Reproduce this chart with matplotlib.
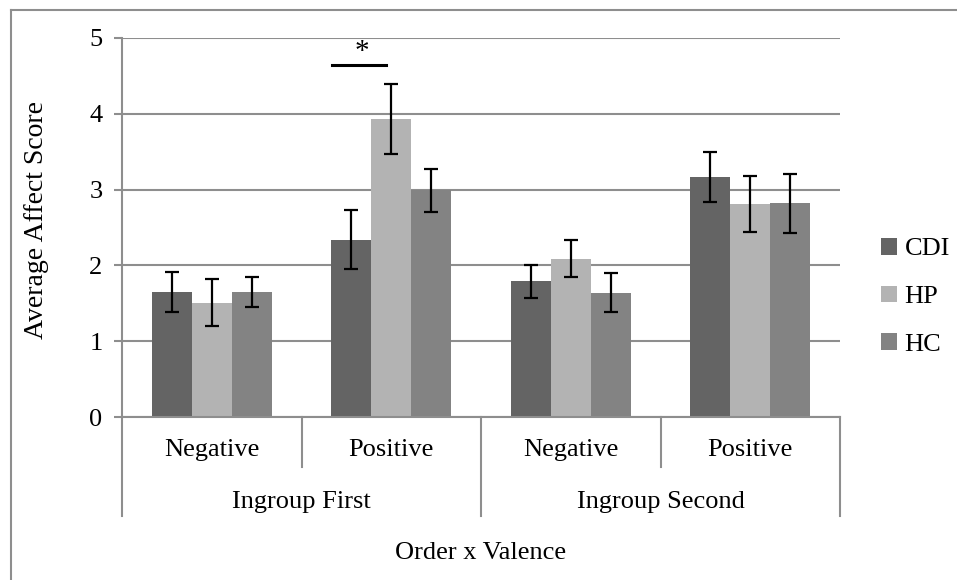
import numpy as np
import matplotlib
matplotlib.use("Agg")
import matplotlib.pyplot as plt
from matplotlib.lines import Line2D

plt.rcParams["font.family"] = ["Liberation Serif", "DejaVu Serif"]

valence = ["Negative", "Positive", "Negative", "Positive"]
order = ["Ingroup First", "Ingroup Second"]
groups = ["CDI", "HP", "HC"]
cdi = [1.65, 2.34, 1.79, 3.16]
hp = [1.51, 3.93, 2.09, 2.81]
hc = [1.65, 2.99, 1.64, 2.82]
cdi_err = [0.26, 0.39, 0.22, 0.33]
hp_err = [0.31, 0.46, 0.24, 0.37]
hc_err = [0.20, 0.28, 0.26, 0.39]
colors = ["#646464", "#b3b3b3", "#838383"]
grid_c = "#8e8e8e"
fs = 19

fig = plt.figure(figsize=(9.57, 5.8), dpi=100)
ax = fig.add_axes([122 / 957, 1 - 417 / 580, 718 / 957, 379 / 580])

x = np.arange(len(valence))
w = 0.223
for i, (vals, errs) in enumerate(zip([cdi, hp, hc], [cdi_err, hp_err, hc_err])):
    ax.bar(x + (i - 1) * w, vals, w, color=colors[i], label=groups[i], zorder=2)
    ax.errorbar(x + (i - 1) * w, vals, yerr=errs, fmt="none", ecolor="black",
                elinewidth=1.6, capsize=5, capthick=1.6, zorder=3)

ax.set_xlim(-0.5, 3.5)
ax.set_ylim(0, 5)
ax.set_yticks(range(6))
ax.yaxis.grid(True, color=grid_c, linewidth=1.5, zorder=0)
ax.set_axisbelow(True)
for s in ["top", "right"]:
    ax.spines[s].set_visible(False)
for s in ["left", "bottom"]:
    ax.spines[s].set_color(grid_c)
    ax.spines[s].set_linewidth(1.5)
ax.tick_params(axis="y", length=6, width=1.5, color=grid_c, pad=8, labelsize=fs)
ax.set_xticks([])
ax.set_ylabel("Average Affect Score", fontsize=fs + 1)
ax.yaxis.set_label_coords(-0.102, 0.52)

# significance marker
ax.plot([0.67, 0.97], [4.65, 4.65], color="black", linewidth=2.2, zorder=3)
ax.text(0.835, 4.82, "*", ha="center", va="center", fontsize=fs + 2)

# hierarchical x axis
tr = ax.get_xaxis_transform()
for b in [0.5, 2.5]:
    ax.plot([b, b], [0, -0.132], transform=tr, color=grid_c, linewidth=1.5, clip_on=False)
for b in [-0.5, 1.5, 3.5]:
    ax.plot([b, b], [0, -0.261], transform=tr, color=grid_c, linewidth=1.5, clip_on=False)
for xi, lab in zip(x, valence):
    ax.text(xi, -0.087, lab, transform=tr, ha="center", va="center", fontsize=fs)
for gi, lab in enumerate(order):
    ax.text(0.5 + 2 * gi, -0.224, lab, transform=tr, ha="center", va="center", fontsize=fs)
ax.text(1.5, -0.359, "Order x Valence", transform=tr, ha="center", va="center", fontsize=fs)

ax.legend(loc="center left", bbox_to_anchor=(1.057, 0.317), frameon=False, fontsize=fs,
          handlelength=0.6, handleheight=0.6, handletextpad=0.3, labelspacing=0.95,
          borderaxespad=0, borderpad=0)

# outer chart border
fig.add_artist(Line2D([11 / 957, 1], [1 - 10 / 580, 1 - 10 / 580], color=grid_c, linewidth=1.5))
fig.add_artist(Line2D([11 / 957, 11 / 957], [0, 1 - 10 / 580], color=grid_c, linewidth=1.5))

fig.savefig("out.png", dpi=100)
